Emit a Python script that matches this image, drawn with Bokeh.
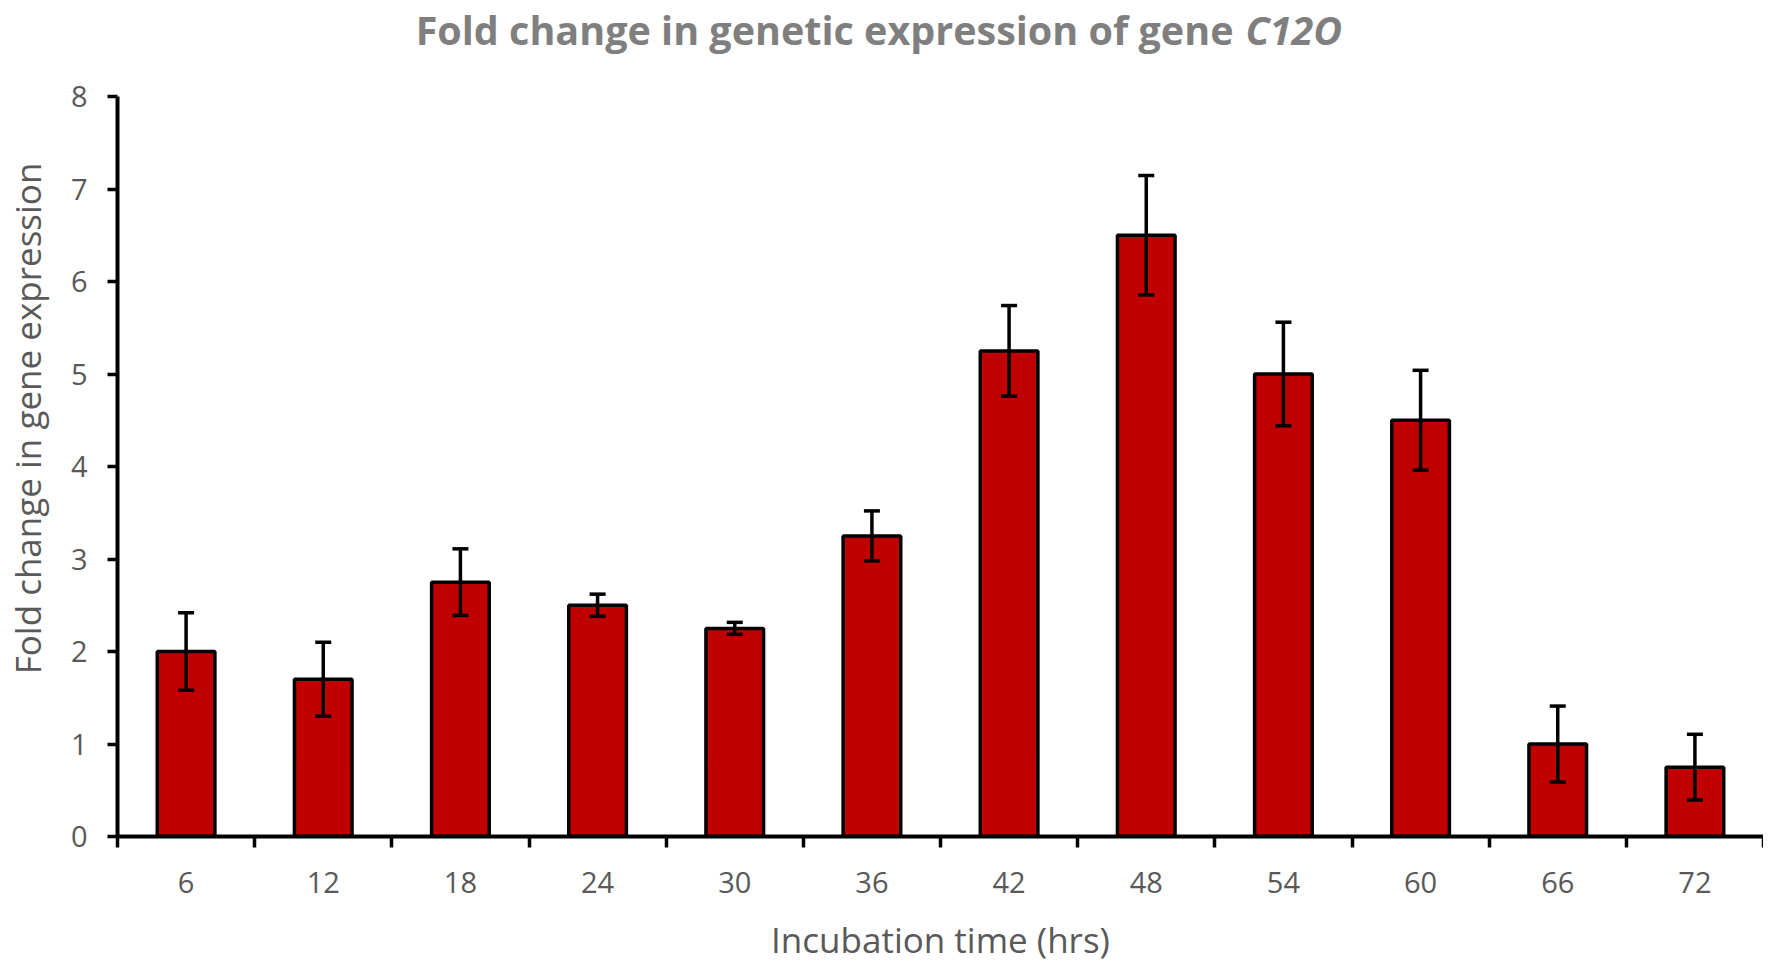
from bokeh.plotting import figure
from bokeh.models import (ColumnDataSource, FixedTicker, Range1d, Whisker, TeeHead, Label)
from bokeh.embed import file_html
from bokeh.resources import INLINE

# ---- data ----
hours = ["6", "12", "18", "24", "30", "36", "42", "48", "54", "60", "66", "72"]
fold_change = [2.0, 1.7, 2.75, 2.5, 2.25, 3.25, 5.25, 6.5, 5.0, 4.5, 1.0, 0.75]
error = [0.42, 0.40, 0.36, 0.12, 0.065, 0.27, 0.49, 0.645, 0.56, 0.54, 0.41, 0.355]
y_ticks = [0, 1, 2, 3, 4, 5, 6, 7, 8]
y_axis_max = 8

title_main = "Fold change in genetic expression of gene"
title_gene = "C12O"
x_title = "Incubation time (hrs)"
y_title = "Fold change in gene expression"

n = len(hours)
centers = [i + 0.5 for i in range(n)]
bounds = [float(i) for i in range(n + 1)]

src = ColumnDataSource(dict(
    x=centers,
    top=fold_change,
    upper=[v + e for v, e in zip(fold_change, error)],
    lower=[v - e for v, e in zip(fold_change, error)],
))

FONT = "Open Sans"
TXT = "#595959"

# layout: the frame reaches the top of the canvas so the title can sit inside it;
# the visible y axis is limited to 0..8 with axis bounds
AXIS_PX = 740          # pixel height of the 0..8 axis
FRAME_H = 836          # frame height (axis + room for title)
y_top = y_axis_max * FRAME_H / AXIS_PX

p = figure(width=1756, height=949, frame_width=1646, frame_height=FRAME_H,
           output_backend="svg", toolbar_location=None,
           x_range=Range1d(0, n), y_range=Range1d(0, y_top),
           min_border_left=0, min_border_top=0, min_border_right=0,
           min_border_bottom=0)
p.outline_line_color = None
p.xgrid.grid_line_color = None
p.ygrid.grid_line_color = None
p.background_fill_color = "white"
p.border_fill_color = "white"

p.vbar(x="x", top="top", bottom=0, width=0.42, source=src,
       fill_color="#C00000", line_color="black", line_width=3.5)

w = Whisker(source=src, base="x", upper="upper", lower="lower",
            line_color="black", line_width=3.5, level="overlay",
            upper_head=TeeHead(size=16, line_width=3.5, line_color="black"),
            lower_head=TeeHead(size=16, line_width=3.5, line_color="black"))
p.add_layout(w)

# x axis: labels at category centres, tick marks at category boundaries
xa = p.xaxis[0]
xa.ticker = FixedTicker(ticks=centers, minor_ticks=bounds)
xa.major_label_overrides = {c: h for c, h in zip(centers, hours)}
xa.major_tick_line_color = None
xa.major_tick_out = 0
xa.major_tick_in = 0
xa.minor_tick_line_color = "black"
xa.minor_tick_line_width = 3.5
xa.minor_tick_out = 11
xa.minor_tick_in = 0
xa.axis_line_width = 4
xa.axis_line_color = "black"
xa.major_label_text_font = FONT
xa.major_label_text_font_size = "29px"
xa.major_label_text_color = TXT
xa.major_label_standoff = 24
xa.axis_label = x_title
xa.axis_label_text_font = FONT
xa.axis_label_text_font_size = "35px"
xa.axis_label_text_font_style = "normal"
xa.axis_label_text_color = TXT
xa.axis_label_standoff = 20

ya = p.yaxis[0]
ya.ticker = FixedTicker(ticks=y_ticks)
ya.bounds = (0, y_axis_max)
ya.minor_tick_line_color = None
ya.major_tick_line_color = "black"
ya.major_tick_line_width = 3.5
ya.major_tick_out = 10
ya.major_tick_in = 0
ya.axis_line_width = 4
ya.axis_line_color = "black"
ya.major_label_text_font = FONT
ya.major_label_text_font_size = "29px"
ya.major_label_text_color = TXT
ya.major_label_standoff = 20
ya.axis_label = y_title
ya.axis_label_text_font = FONT
ya.axis_label_text_font_size = "35px"
ya.axis_label_text_font_style = "normal"
ya.axis_label_text_color = TXT
ya.axis_label_standoff = 17

# title (two pieces: the gene name is italic); screen units from frame's bottom-left
FRAME_LEFT = 118
TITLE_Y = 807
t1 = Label(x=1234 - FRAME_LEFT, y=TITLE_Y, x_units="screen", y_units="screen",
           text=title_main, text_align="right", text_baseline="alphabetic",
           text_font=FONT, text_font_size="39.5px", text_font_style="bold",
           text_color="#7F7F7F")
t2 = Label(x=1246 - FRAME_LEFT, y=TITLE_Y, x_units="screen", y_units="screen",
           text=title_gene, text_align="left", text_baseline="alphabetic",
           text_font=FONT, text_font_size="39.5px", text_font_style="bold italic",
           text_color="#7F7F7F")
p.add_layout(t1)
p.add_layout(t2)

open("out.html", "w").write(file_html(p, INLINE))
